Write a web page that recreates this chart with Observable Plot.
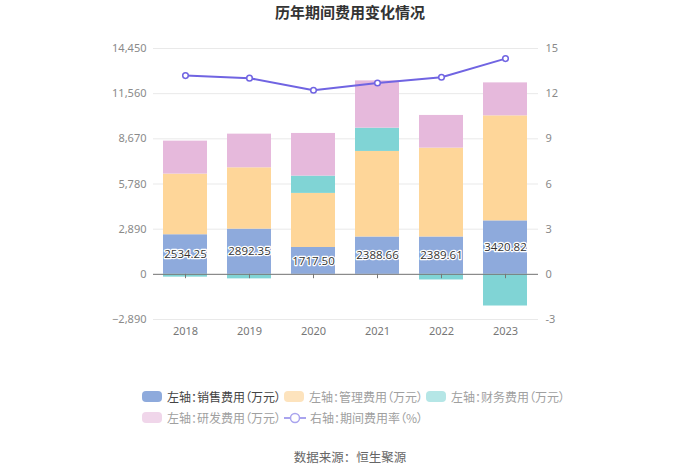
<!DOCTYPE html>
<html>
<head>
<meta charset="utf-8">
<script src="https://cdn.jsdelivr.net/npm/d3@7"></script>
<script src="https://cdn.jsdelivr.net/npm/@observablehq/plot@0.6"></script>
<style>
  html, body { margin: 0; padding: 0; background: #fff; }
  body { width: 700px; height: 474px; position: relative; overflow: hidden; font-family: "Noto Sans CJK SC", "Noto Sans", sans-serif; }
  #title { position: absolute; top: 1px; left: 0; width: 700px; text-align: center; font-size: 15px; font-weight: bold; color: #333; }
  #chart { position: absolute; top: 0; left: 0; }
  #legend { position: absolute; left: 0; top: 0; width: 700px; font-size: 12px; color: #999; font-feature-settings: "palt"; }
  .item { position: absolute; display: flex; align-items: center; white-space: nowrap; }
  .sw { width: 20px; height: 11px; border-radius: 4px; margin-right: 5px; }
  #caption { position: absolute; top: 447px; left: 0; width: 700px; text-align: center; font-size: 12.5px; color: #666; }
</style>
</head>
<body>
<div id="title">历年期间费用变化情况</div>
<div id="chart"></div>
<div id="legend"></div>
<div id="caption">数据来源：恒生聚源</div>
<script>
const years = ["2018", "2019", "2020", "2021", "2022", "2023"];
const sales = [2534.25, 2892.35, 1717.50, 2388.66, 2389.61, 3420.82];
const admin = [3879, 3924, 3461, 5475, 5686, 6720];
const finance = [-180, -290, 1106, 1490, -360, -2027];
const rd = [2110, 2154, 2730, 3025, 2091, 2110];
const rate = [13.2, 13.03, 12.23, 12.71, 13.09, 14.33];

const leftTicks = [-2890, 0, 2890, 5780, 8670, 11560, 14450];
const rightTicks = [-3, 0, 3, 6, 9, 12, 15];
const seriesNames = ["左轴：销售费用（万元）", "左轴：管理费用（万元）", "左轴：财务费用（万元）", "左轴：研发费用（万元）"];
const lineName = "右轴：期间费用率（%）";
const colors = ["#8eaadc", "#fed699", "#80d4d5", "#e6b9dc"];
const legendColors = ["#8eaadc", "#fde3bd", "#b5e6e6", "#f0d6ea"];

const seriesValues = [sales, admin, finance, rd];
const rows = [];
seriesNames.forEach((s, i) => years.forEach((y, j) => rows.push({year: y, series: s, value: seriesValues[i][j]})));

const ratio = leftTicks[leftTicks.length - 1] / rightTicks[rightTicks.length - 1];
const rateRows = years.map((y, j) => ({year: y, v: rate[j] * ratio}));
const salesRows = years.map((y, j) => ({year: y, v: sales[j]}));

const chart = Plot.plot({
  width: 700,
  height: 340,
  marginTop: 48,
  marginBottom: 21,
  marginLeft: 153,
  marginRight: 162,
  style: {fontFamily: "'Noto Sans', 'Noto Sans CJK SC', sans-serif", fontSize: "11px", background: "transparent"},
  x: {type: "band", domain: years, paddingInner: 0.31, paddingOuter: 0.155, axis: null},
  y: {domain: [leftTicks[0], leftTicks[leftTicks.length - 1]], axis: null},
  color: {domain: seriesNames, range: colors},
  marks: [
    Plot.gridY(leftTicks, {stroke: "#e9e9e9", strokeOpacity: 1}),
    Plot.axisY(leftTicks, {anchor: "left", tickSize: 0, tickPadding: 7, tickFormat: d3.format(","), fill: "#8a8a8a", fontSize: 11, label: null}),
    Plot.axisY(leftTicks, {anchor: "right", tickSize: 0, tickPadding: 7, tickFormat: (d, i) => String(rightTicks[i]), fill: "#8a8a8a", fontSize: 11, label: null}),
    Plot.barY(rows, Plot.stackY({x: "year", y: "value", fill: "series", order: seriesNames})),
    Plot.ruleY([0], {stroke: "#777", strokeWidth: 1}),
    Plot.ruleX(years, {x: d => d, y1: 0, y2: -280, stroke: "#777"}),
    Plot.axisX(years, {anchor: "bottom", tickSize: 0, tickPadding: 8, fill: "#777", fontSize: 11, label: null}),
    Plot.text(salesRows, {x: "year", y: d => d.v / 2, text: d => d.v.toFixed(2), fill: "#333", stroke: "white", strokeWidth: 2.5, fontSize: 11.5, fontFamily: "'Open Sans', sans-serif", letterSpacing: "-0.3px"}),
    Plot.line(rateRows, {x: "year", y: "v", stroke: "#7064e2", strokeWidth: 2}),
    Plot.dot(rateRows, {x: "year", y: "v", r: 2.8, fill: "white", stroke: "#7064e2", strokeWidth: 1.5})
  ]
});
document.getElementById("chart").appendChild(chart);

// Legend
const legend = document.getElementById("legend");
const pos = [[142, 397], [284, 397], [426, 397], [142, 418]];
seriesNames.forEach((s, i) => {
  const el = document.createElement("div");
  el.className = "item";
  el.style.left = pos[i][0] + "px";
  el.style.top = (pos[i][1] - 9) + "px";
  el.style.color = i === 0 ? "#444" : "#a0a0a0";
  el.innerHTML = `<div class="sw" style="background:${legendColors[i]}"></div><span>${s}</span>`;
  legend.appendChild(el);
});
const li = document.createElement("div");
li.className = "item";
li.style.left = "284px";
li.style.top = (418 - 9) + "px";
li.style.color = "#a0a0a0";
li.innerHTML = `<svg width="22" height="12" style="margin-right:4px"><line x1="0" y1="6" x2="22" y2="6" stroke="#a9a4ee" stroke-width="2"/><circle cx="11" cy="6" r="4.5" fill="white" stroke="#a9a4ee" stroke-width="1.5"/></svg><span>${lineName}</span>`;
legend.appendChild(li);
</script>
</body>
</html>
